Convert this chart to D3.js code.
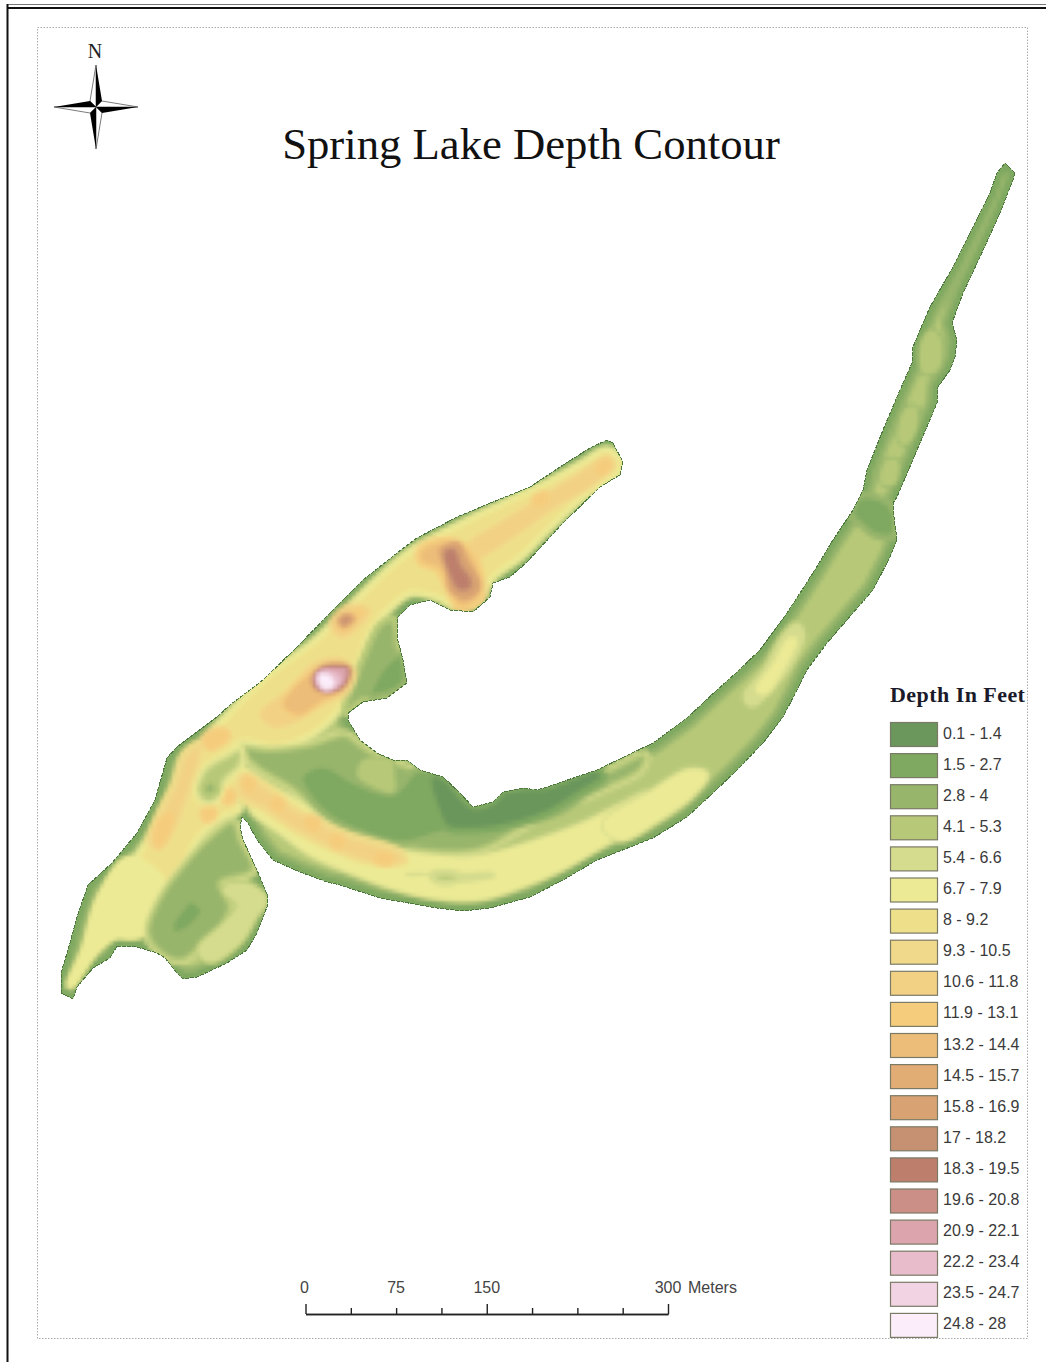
<!DOCTYPE html>
<html>
<head>
<meta charset="utf-8">
<script src="https://cdn.jsdelivr.net/npm/d3@7"></script>
<style>
  html, body { margin: 0; padding: 0; background: #fff; }
</style>
</head>
<body>
<div id="map"></div>
<script>
// DEPTH CLASSES
const depthLabels = ["0.1 - 1.4", "1.5 - 2.7", "2.8 - 4", "4.1 - 5.3", "5.4 - 6.6", "6.7 - 7.9", "8 - 9.2",
  "9.3 - 10.5", "10.6 - 11.8", "11.9 - 13.1", "13.2 - 14.4", "14.5 - 15.7", "15.8 - 16.9", "17 - 18.2",
  "18.3 - 19.5", "19.6 - 20.8", "20.9 - 22.1", "22.2 - 23.4", "23.5 - 24.7", "24.8 - 28"];
const depthColors = ["#6b965c", "#7fa860", "#98b56c", "#b7c978", "#d5dc8d", "#ecea94", "#eee08a",
  "#f0d98a", "#f2d184", "#f5cc7c", "#ecbd78", "#e2ad74", "#d9a272", "#c69072",
  "#bd7f6c", "#cc8f88", "#dca5ae", "#e8bccb", "#f1d3e3", "#fbeefa"];

// SCALE BAR
const scaleMajor = [0, 150, 300];
const scaleMinor = [37.5, 75, 112.5, 187.5, 225, 262.5];
const scaleLabels = [0, 75, 150, 300];

// SHORELINE, map grid units
const shoreline = [[61, 993], [73, 999], [77, 987], [93, 968], [110, 958], [117, 946], [137, 947], [157, 953],
  [165, 958], [177, 973], [183, 979], [197, 977], [227, 963], [247, 950], [257, 933], [267, 907], [268, 897],
  [257, 870], [243, 840], [240, 827], [242, 817], [248, 823], [257, 840], [273, 860], [300, 872], [327, 882],
  [340, 885], [380, 898], [437, 908], [463, 911], [490, 908], [530, 897], [563, 880], [597, 860], [653, 838],
  [687, 817], [713, 793], [737, 770], [763, 743], [783, 717], [797, 690], [807, 670], [827, 643], [853, 613],
  [873, 590], [890, 557], [897, 540], [894, 517], [893, 503], [897, 497], [917, 450], [937, 403], [938, 387],
  [950, 370], [955, 357], [957, 340], [952, 323], [963, 293], [980, 257], [1000, 213], [1013, 180], [1015, 173],
  [1005, 163], [997, 173], [990, 193], [973, 227], [953, 267], [930, 307], [920, 330], [913, 347], [912, 363],
  [900, 390], [883, 430], [867, 470], [863, 490], [853, 510], [833, 540], [813, 573], [787, 613], [760, 650],
  [737, 672], [717, 690], [687, 718], [653, 743], [597, 770], [547, 787], [537, 790], [523, 788], [503, 792],
  [493, 802], [473, 807], [460, 793], [443, 777], [420, 770], [407, 760], [393, 760], [377, 753], [360, 740],
  [348, 720], [348, 713], [363, 702], [387, 698], [407, 683], [403, 660], [397, 637], [398, 617], [410, 605],
  [430, 600], [450, 610], [473, 612], [490, 597], [493, 583], [510, 577], [527, 562], [563, 523], [600, 487],
  [620, 475], [623, 462], [613, 443], [607, 440], [590, 448], [563, 465], [530, 487], [493, 502], [457, 517],
  [417, 538], [397, 553], [363, 580], [330, 613], [297, 647], [263, 680], [230, 705], [217, 717], [177, 747],
  [167, 758], [155, 800], [137, 833], [112, 863], [88, 885], [77, 917], [68, 950], [61, 973]];

// DEPTH ZONES, shallow to deep
const northYellow = [[70, 985], [95, 950], [115, 935], [135, 935], [150, 925], [170, 890], [185, 860], [200, 835],
  [225, 815], [238, 810], [240, 790], [228, 765], [240, 742], [275, 746], [310, 735], [340, 707], [357, 663],
  [370, 630], [387, 610], [410, 593], [437, 597], [457, 607], [477, 603], [493, 577], [520, 557], [547, 530],
  [583, 497], [603, 483], [618, 473], [620, 460], [607, 450], [583, 463], [547, 483], [507, 502], [463, 523],
  [417, 547], [397, 562], [370, 587], [337, 620], [313, 643], [267, 677], [230, 713], [190, 758], [175, 800],
  [155, 830], [135, 860], [115, 885], [100, 900], [85, 950]];
const westTip = [[72, 983], [95, 950], [115, 935], [135, 935], [150, 925], [165, 890], [130, 860], [100, 900], [86, 950]];
const southYellow = [[240, 770], [265, 785], [300, 805], [335, 828], [370, 842], [410, 853], [470, 860], [530, 845],
  [585, 825], [625, 805], [650, 795], [650, 815], [600, 845], [560, 868], [520, 885],
  [480, 897], [430, 895], [390, 885], [350, 870], [310, 852], [280, 830], [255, 812], [248, 800], [240, 800]];
const northCentral2 = [[240, 748], [270, 750], [310, 745], [345, 735], [360, 745], [375, 755], [393, 762], [420, 772],
  [445, 780], [475, 810], [540, 795], [600, 775], [645, 755], [640, 770], [600, 790], [530, 823], [477, 850],
  [403, 847], [363, 833], [330, 820], [290, 787], [257, 767]];
const northCentral1 = [[300, 777], [323, 765], [357, 783], [393, 793], [417, 770], [443, 777], [473, 807], [493, 802],
  [530, 788], [597, 770], [607, 780], [587, 793], [557, 813], [497, 828], [447, 832], [403, 843], [363, 833],
  [330, 817], [307, 793]];
const northCentral0 = [[430, 777], [443, 777], [473, 807], [493, 802], [503, 792], [523, 788], [547, 787], [597, 770],
  [603, 777], [580, 793], [547, 813], [497, 828], [470, 830], [447, 828], [437, 810]];
const northPatch3 = [[365, 762], [390, 762], [392, 775], [392, 790], [375, 785], [360, 775]];
const southOrange = [[240, 775], [262, 785], [300, 812], [345, 835], [400, 853], [405, 862], [370, 862], [335, 850],
  [295, 830], [262, 808], [240, 795]];
const southBlobs = [[[246, 778], [254, 782], [252, 790], [244, 788]], [[275, 798], [283, 803], [280, 811], [272, 806]],
  [[308, 818], [318, 822], [316, 830], [306, 826]], [[334, 836], [344, 840], [341, 847], [332, 844]],
  [[378, 854], [392, 856], [390, 863], [376, 861]]];
const southPatch4 = [[403, 872], [420, 870], [440, 872], [470, 870], [495, 870], [498, 878], [470, 885], [450, 885],
  [430, 878], [405, 878]];
const southPatch3 = [[432, 875], [450, 873], [462, 877], [450, 882], [436, 880]];
const westGreen2 = [[233, 822], [240, 840], [253, 870], [220, 883], [230, 907], [220, 927], [197, 950], [183, 960],
  [167, 957], [150, 940], [148, 927], [163, 893], [180, 870], [207, 840]];
const westGreen1 = [[190, 900], [203, 910], [187, 930], [173, 933], [172, 923], [183, 907]];
const westEdge4 = [[265, 900], [255, 915], [240, 940], [210, 960], [200, 950], [225, 925], [240, 905], [225, 890], [245, 885]];
const westOrange = [[150, 845], [160, 815], [175, 785], [185, 755], [200, 745], [200, 760], [190, 790], [175, 830], [160, 850]];
const westBlobs = [[[155, 838], [163, 818], [172, 815], [167, 835], [158, 846]], [[205, 740], [222, 730], [228, 736], [210, 748]],
  [[224, 794], [231, 791], [233, 799], [226, 802]], [[203, 812], [212, 808], [214, 816], [206, 820]]];
const junctionGreen3 = [[198, 790], [205, 770], [225, 757], [240, 750], [240, 765], [225, 780], [215, 800], [202, 800]];
const junctionGreen2 = [[203, 788], [212, 780], [217, 790], [208, 796]];
const coveGreen2 = [[345, 712], [362, 700], [390, 695], [405, 682], [398, 650], [393, 620], [380, 625], [365, 655], [355, 680]];
const coveGreen1 = [[370, 695], [395, 690], [405, 680], [400, 655], [385, 665], [375, 680]];
const armOrange = [[470, 545], [500, 525], [540, 500], [580, 475], [607, 458], [612, 465], [590, 485], [555, 505], [520, 530], [490, 550], [470, 560]];
const armBlobs = [[[535, 498], [546, 494], [546, 502], [536, 505]], [[597, 470], [606, 460], [610, 465], [601, 474]]];
const holeOneHalo = [[262, 715], [290, 690], [315, 665], [340, 660], [352, 672], [345, 690], [320, 705], [295, 720], [275, 725]];
const holeOneShelf = [[285, 705], [305, 680], [325, 668], [345, 672], [340, 690], [320, 700], [300, 713]];
const holeOneRim = [[314, 678], [321, 669], [335, 666], [348, 668], [347, 680], [339, 689], [325, 691], [316, 687]];
const holeOneWall = [[319, 678], [325, 673], [335, 675], [339, 679], [334, 685], [325, 687]];
const holeOneFloor = [[322, 677], [327, 678], [331, 683], [327, 686], [323, 683]];
const holeTwoHalo = [[333, 626], [350, 608], [368, 610], [362, 621], [342, 636]];
const holeTwoFloor = [[339, 620], [346, 615], [353, 618], [350, 623], [343, 626]];
const holeThreeHalo = [[420, 550], [445, 540], [470, 550], [482, 580], [480, 598], [460, 608], [448, 590], [438, 570], [420, 562]];
const holeThreeWall = [[442, 550], [458, 545], [465, 560], [477, 580], [477, 590], [465, 597], [452, 590], [448, 570]];
const holeThreeFloor = [[447, 553], [453, 552], [458, 566], [468, 580], [468, 586], [460, 587], [454, 578]];
const eastRidge = [[745, 697], [765, 670], [785, 635], [797, 625], [803, 635], [790, 665], [770, 690], [752, 705]];
const eastRidgeCore = [[758, 690], [775, 665], [790, 640], [795, 640], [782, 668], [765, 692]];
const eastShelf = [[605, 825], [650, 795], [690, 772], [705, 775], [690, 795], [655, 820], [620, 838]];
const eastBend2 = [[860, 497], [890, 505], [893, 535], [875, 535], [862, 525], [852, 515]];
const upperPool4 = [[923, 345], [932, 332], [940, 345], [936, 368], [925, 372]];
const upperPoolA = [[900, 440], [906, 412], [914, 408], [915, 425], [906, 442]];
const upperPoolB = [[883, 482], [888, 462], [896, 462], [893, 482]];

// [class index, ring, class the edge fades towards]
const zones = [
  [6, northYellow, 4], [5, westTip, 5], [5, southYellow, 4], [2, northCentral2, 4], [1, northCentral1, 2], [0, northCentral0, 1], [3, northPatch3, 2],
  [8, southOrange, 6], ...southBlobs.map((d) => [9, d, 8]), [4, southPatch4, 5], [3, southPatch3, 4],
  [2, westGreen2, 4], [1, westGreen1, 2], [4, westEdge4, 3],
  [8, westOrange, 6], ...westBlobs.map((d) => [9, d, 8]), [3, junctionGreen3, 5], [2, junctionGreen2, 3],
  [2, coveGreen2, 3], [1, coveGreen1, 2], [8, armOrange, 7], ...armBlobs.map((d) => [9, d, 8]),
  [8, holeOneHalo, 7], [10, holeOneShelf, 9], [16, holeOneRim, 11], [17, holeOneWall, 16], [19, holeOneFloor, 18],
  [9, holeTwoHalo, 7], [13, holeTwoFloor, 10], [10, holeThreeHalo, 8], [12, holeThreeWall, 11], [14, holeThreeFloor, 13],
  [4, eastRidge, 3], [5, eastRidgeCore, 4], [5, eastShelf, 4], [1, eastBend2, 2], [3, upperPool4, 2], [3, upperPoolA, 2], [3, upperPoolB, 2],
];

//CREATE THE DIMENSIONS
const dimension = {
  width: 1046,
  height: 1362,
  legendLeft: 890,
  legendTop: 722,
  legendStep: 31.1,
};

const svg = d3.select("#map").append("svg")
  .attr("width", dimension.width)
  .attr("height", dimension.height)
  .style("display", "block");

//SCALES
const xMap = d3.scaleLinear().domain([0, dimension.width]).range([0, dimension.width]);
const yMap = d3.scaleLinear().domain([0, dimension.height]).range([0, dimension.height]);
const xBar = d3.scaleLinear().domain([0, 300]).range([305.5, 668]);
const yLegend = d3.scaleBand()
  .domain(depthLabels)
  .range([dimension.legendTop, dimension.legendTop + dimension.legendStep * depthLabels.length]);
const color = d3.scaleOrdinal().domain(depthLabels).range(depthColors);
const colorAt = (i) => color(depthLabels[i]);

const ring = d3.line().x((d) => xMap(d[0])).y((d) => yMap(d[1])).curve(d3.curveCatmullRomClosed.alpha(0.5));
const shoreRing = d3.line().x((d) => xMap(d[0])).y((d) => yMap(d[1])).curve(d3.curveLinearClosed);

//FRAME
svg.append("line").attr("x1", 7).attr("x2", 1046).attr("y1", 4.5).attr("y2", 4.5)
  .attr("stroke", "#777").attr("stroke-width", 1);
svg.append("line").attr("x1", 7).attr("x2", 1046).attr("y1", 8).attr("y2", 8)
  .attr("stroke", "#111").attr("stroke-width", 2);
svg.append("line").attr("x1", 7.5).attr("x2", 7.5).attr("y1", 4).attr("y2", 1362)
  .attr("stroke", "#111").attr("stroke-width", 2);
svg.append("rect").attr("x", 37.5).attr("y", 27.5).attr("width", 990).attr("height", 1311)
  .attr("fill", "none").attr("stroke", "#aaa").attr("stroke-width", 1).attr("stroke-dasharray", "1.5 1.5");

//LAKE
const defs = svg.append("defs");
defs.append("clipPath").attr("id", "lake-clip").append("path").attr("d", shoreRing(shoreline));
// blocky raster look: sample on a 4px lattice, then grow every sample to a cell
const soft = defs.append("filter").attr("id", "soft")
  .attr("filterUnits", "userSpaceOnUse")
  .attr("x", 0).attr("y", 0).attr("width", dimension.width).attr("height", dimension.height);
soft.append("feGaussianBlur").attr("in", "SourceGraphic").attr("stdDeviation", 1.6).attr("result", "b");
soft.append("feFlood").attr("x", 2).attr("y", 2).attr("width", 1).attr("height", 1).attr("flood-color", "#000");
soft.append("feComposite").attr("x", 0).attr("y", 0).attr("width", 4).attr("height", 4).attr("operator", "over");
soft.append("feTile").attr("result", "lattice");
soft.append("feComposite").attr("in", "b").attr("in2", "lattice").attr("operator", "in");
soft.append("feMorphology").attr("operator", "dilate").attr("radius", 2);
soft.append("feGaussianBlur").attr("stdDeviation", 0.8);

const lake = svg.append("g").attr("clip-path", "url(#lake-clip)").append("g").attr("filter", "url(#soft)");
lake.append("path").attr("d", shoreRing(shoreline)).attr("fill", colorAt(3));
lake.append("path").attr("d", shoreRing(shoreline)).attr("fill", "none")
  .attr("stroke", colorAt(2)).attr("stroke-width", 24).attr("stroke-linejoin", "round");
lake.append("path").attr("d", shoreRing(shoreline)).attr("fill", "none")
  .attr("stroke", colorAt(1)).attr("stroke-width", 13).attr("stroke-linejoin", "round");

const zone = lake.selectAll(".zone")
  .data(zones)
  .enter()
  .append("g")
  .attr("class", "zone");
zone.append("path")
  .attr("d", (d) => ring(d[1]))
  .attr("fill", "none")
  .attr("stroke", (d) => colorAt(d[2]))
  .attr("stroke-width", 9)
  .attr("stroke-linejoin", "round");
zone.append("path")
  .attr("d", (d) => ring(d[1]))
  .attr("fill", (d) => colorAt(d[0]))
  .attr("stroke", (d) => colorAt(Math.round((d[0] + d[2]) / 2)))
  .attr("stroke-width", 4)
  .attr("stroke-linejoin", "round");

svg.append("path").attr("d", shoreRing(shoreline))
  .attr("fill", "none")
  .attr("stroke", "#4d7a3c")
  .attr("stroke-width", 1)
  .attr("stroke-dasharray", "4 1")
  .attr("shape-rendering", "crispEdges");

//TITLE
svg.append("text").attr("x", 531).attr("y", 159)
  .attr("text-anchor", "middle")
  .attr("font-family", "Liberation Serif")
  .attr("font-size", 44.7)
  .attr("fill", "#111")
  .text("Spring Lake Depth Contour");

//NORTH ARROW
const north = svg.append("g").attr("transform", "translate(96,107)");
north.append("text").attr("x", -1).attr("y", -49)
  .attr("text-anchor", "middle")
  .attr("font-family", "Liberation Serif")
  .attr("font-size", 20)
  .attr("fill", "#222")
  .text("N");
[0, 90, 180, 270].forEach((angle) => {
  const arm = north.append("g").attr("transform", `rotate(${angle})`);
  arm.append("path").attr("d", "M0,-42L-6,-6L0,0Z").attr("fill", "#fff").attr("stroke", "#222").attr("stroke-width", 0.6);
  arm.append("path").attr("d", "M0,-42L6,-6L0,0Z").attr("fill", "#000");
});

//LEGEND
svg.append("text").attr("x", dimension.legendLeft).attr("y", 702)
  .attr("font-family", "Liberation Serif")
  .attr("font-weight", "bold")
  .attr("font-size", 22)
  .attr("letter-spacing", 0.45)
  .attr("fill", "#1a1a2a")
  .text("Depth In Feet");

const legend = svg.selectAll(".legend")
  .data(depthLabels)
  .enter()
  .append("g")
  .attr("class", "legend")
  .attr("transform", (d) => `translate(${dimension.legendLeft},${yLegend(d)})`);
legend.append("rect")
  .attr("x", 0.5).attr("y", 0.5)
  .attr("width", 47).attr("height", 24)
  .attr("fill", (d) => color(d))
  .attr("stroke", "#7a7a66")
  .attr("stroke-width", 1.2);
legend.append("text")
  .attr("x", 53).attr("y", 16.5)
  .attr("font-family", "Liberation Sans")
  .attr("font-size", 16)
  .attr("fill", "#3a3a3a")
  .text((d) => d);

//SCALE BAR
const barY = 1314;
const minorAxis = svg.append("g").attr("transform", `translate(0,${barY})`)
  .call(d3.axisTop(xBar).tickValues(scaleMinor).tickSize(6).tickSizeOuter(0).tickFormat(""));
const majorAxis = svg.append("g").attr("transform", `translate(0,${barY})`)
  .call(d3.axisTop(xBar).tickValues(scaleMajor).tickSize(10).tickSizeOuter(0).tickFormat(""));
[minorAxis, majorAxis].forEach((axis) => {
  axis.selectAll("line").attr("stroke", "#222").attr("stroke-width", 1.4);
  axis.select(".domain").attr("stroke", "#222").attr("stroke-width", 1.4);
});
svg.selectAll(".bar-label")
  .data(scaleLabels)
  .enter()
  .append("text")
  .attr("class", "bar-label")
  .attr("x", (d) => xBar(d) - (d === 0 ? 1 : 0))
  .attr("y", 1293)
  .attr("text-anchor", "middle")
  .attr("font-family", "Liberation Sans")
  .attr("font-size", 16)
  .attr("fill", "#444")
  .text((d) => d);
svg.append("text").attr("x", xBar(300) + 20).attr("y", 1293)
  .attr("font-family", "Liberation Sans")
  .attr("font-size", 16)
  .attr("fill", "#444")
  .text("Meters");
</script>
</body>
</html>
